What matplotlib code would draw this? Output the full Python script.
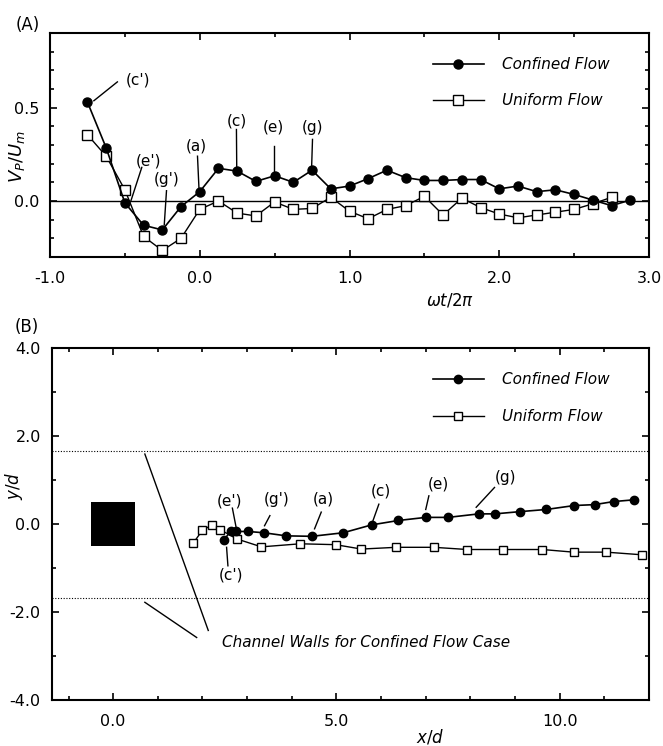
import numpy as np
import matplotlib
matplotlib.use("Agg")
import matplotlib.pyplot as plt
from matplotlib.ticker import MultipleLocator, FormatStrFormatter

plt.rcParams["font.family"] = "DejaVu Sans"
plt.rcParams["axes.unicode_minus"] = False

# (A) particle velocity vs phase
phase_conf = np.arange(-0.75, 2.876, 0.125)
vp_conf = [0.53, 0.285, -0.01, -0.13, -0.155, -0.03, 0.05, 0.175, 0.16, 0.105,
           0.135, 0.10, 0.165, 0.065, 0.08, 0.12, 0.165, 0.125, 0.11, 0.11,
           0.115, 0.115, 0.065, 0.08, 0.05, 0.06, 0.035, 0.005, -0.025, 0.005]
phase_unif = np.arange(-0.75, 2.751, 0.125)
vp_unif = [0.355, 0.24, 0.06, -0.19, -0.265, -0.2, -0.045, 0.0, -0.065, -0.08,
           -0.005, -0.045, -0.04, 0.02, -0.055, -0.095, -0.045, -0.025, 0.025, -0.075,
           0.015, -0.035, -0.07, -0.09, -0.075, -0.06, -0.045, -0.015, 0.02]

# (B) particle trajectories
x_conf = [2.48, 2.63, 2.74, 3.02, 3.38, 3.88, 4.45, 5.15, 5.79, 6.39,
          7.0, 7.5, 8.19, 8.55, 9.1, 9.7, 10.33, 10.78, 11.21, 11.67]
y_conf = [-0.36, -0.17, -0.17, -0.17, -0.2, -0.27, -0.28, -0.2, -0.02, 0.08,
          0.15, 0.15, 0.23, 0.23, 0.28, 0.33, 0.42, 0.44, 0.51, 0.55]
x_unif = [1.79, 2.0, 2.22, 2.40, 2.77, 3.32, 4.19, 4.98, 5.56, 6.34,
          7.18, 7.93, 8.73, 9.61, 10.31, 11.04, 11.84]
y_unif = [-0.44, -0.14, -0.02, -0.13, -0.34, -0.52, -0.45, -0.47, -0.57, -0.53,
          -0.53, -0.58, -0.58, -0.58, -0.64, -0.64, -0.70]
wall_y = [1.65, -1.68]

# labels: (text, text x, text y, line start, line end)
labels_a = [("(c')", -0.41, 0.65, (-0.55, 0.638), (-0.707, 0.537)),
            ("(e')", -0.34, 0.213, (-0.387, 0.18), (-0.46, 0.0)),
            ("(g')", -0.22, 0.117, (-0.222, 0.055), (-0.237, -0.128)),
            ("(a)", -0.02, 0.293, (-0.015, 0.24), (-0.005, 0.064)),
            ("(c)", 0.247, 0.426, (0.245, 0.383), (0.247, 0.18)),
            ("(e)", 0.493, 0.394, (0.493, 0.293), (0.493, 0.154)),
            ("(g)", 0.753, 0.394, (0.753, 0.33), (0.747, 0.18))]
labels_b = [("(e')", 2.61, 0.53, (2.67, 0.36), (2.76, -0.11)),
            ("(g')", 3.66, 0.55, (3.51, 0.19), (3.39, -0.04)),
            ("(a)", 4.70, 0.57, (4.66, 0.27), (4.51, -0.11)),
            ("(c')", 2.65, -1.17, (2.57, -0.95), (2.54, -0.53)),
            ("(c)", 5.99, 0.76, (5.95, 0.45), (5.82, 0.08)),
            ("(e)", 7.29, 0.91, (7.07, 0.64), (7.0, 0.33)),
            ("(g)", 8.78, 1.06, (8.54, 0.83), (8.13, 0.38))]

fig = plt.figure(figsize=(6.63, 7.46), dpi=100)
ax1 = fig.add_axes([0.0754, 0.6555, 0.9035, 0.3003])
ax2 = fig.add_axes([0.0784, 0.0617, 0.9005, 0.4718])

for ax in (ax1, ax2):
    for s in ax.spines.values():
        s.set_linewidth(1.5)
    ax.tick_params(which="both", direction="in", top=True, right=True, labelsize=11.5, width=1.2)
    ax.tick_params(which="major", length=5, pad=8)
    ax.tick_params(which="minor", length=3)
    ax.tick_params(axis="x", which="major", pad=10)

# panel A
ax1.axhline(0, color="black", lw=1.0, zorder=1)
ax1.plot(phase_conf, vp_conf, "-o", color="black", ms=6.5, lw=1.2, label="Confined Flow", zorder=3)
ax1.plot(phase_unif, vp_unif, "-s", color="black", mfc="white", ms=6.5, lw=1.0, label="Uniform Flow", zorder=2)
for t, tx, ty, p0, p1 in labels_a:
    ax1.text(tx, ty, t, ha="center", va="center", fontsize=11)
    ax1.plot([p0[0], p1[0]], [p0[1], p1[1]], color="black", lw=1.0)
ax1.set_xlim(-1, 3)
ax1.set_ylim(-0.3, 0.9)
ax1.xaxis.set_major_locator(MultipleLocator(1.0))
ax1.xaxis.set_minor_locator(MultipleLocator(0.5))
ax1.yaxis.set_major_locator(MultipleLocator(0.5))
ax1.yaxis.set_minor_locator(MultipleLocator(0.1))
ax1.xaxis.set_major_formatter(FormatStrFormatter("%.1f"))
ax1.yaxis.set_major_formatter(FormatStrFormatter("%.1f"))
ax1.set_xlabel(r"$\omega t/2\pi$", fontsize=12)
ax1.xaxis.set_label_coords(0.668, -0.155)
ax1.set_ylabel(r"$V_P/U_m$", fontsize=13)
ax1.yaxis.set_label_coords(-0.038, 0.45)
ax1.legend(loc="upper right", frameon=False, prop={"style": "italic", "size": 11},
           handlelength=3.3, handletextpad=1.2, labelspacing=1.35,
           bbox_to_anchor=(0.957, 0.953))
ax1.text(-0.058, 1.036, "(A)", transform=ax1.transAxes, fontsize=12, va="center")

# panel B
for wy in wall_y:
    ax2.axhline(wy, color="black", lw=0.8, ls=(0, (1, 1.5)))
ax2.fill([-0.5, 0.5, 0.5, -0.5], [-0.5, -0.5, 0.5, 0.5], color="black", lw=0)
ax2.plot(x_conf, y_conf, "-o", color="black", ms=6, lw=1.2, label="Confined Flow", zorder=3)
ax2.plot(x_unif, y_unif, "-s", color="black", mfc="white", ms=6, lw=1.0, label="Uniform Flow", zorder=2)
for t, tx, ty, p0, p1 in labels_b:
    ax2.text(tx, ty, t, ha="center", va="center", fontsize=11)
    ax2.plot([p0[0], p1[0]], [p0[1], p1[1]], color="black", lw=1.0)
ax2.plot([0.71, 2.13], [1.59, -2.42], color="black", lw=1.0)
ax2.plot([0.71, 1.87], [-1.78, -2.58], color="black", lw=1.0)
ax2.text(2.43, -2.69, "Channel Walls for Confined Flow Case", style="italic", fontsize=11, va="center")
ax2.set_xlim(-1.37, 12)
ax2.set_ylim(-4, 4)
ax2.xaxis.set_major_locator(MultipleLocator(5.0))
ax2.xaxis.set_minor_locator(MultipleLocator(1.0))
ax2.yaxis.set_major_locator(MultipleLocator(2.0))
ax2.yaxis.set_minor_locator(MultipleLocator(1.0))
ax2.xaxis.set_major_formatter(FormatStrFormatter("%.1f"))
ax2.yaxis.set_major_formatter(FormatStrFormatter("%.1f"))
ax2.set_xlabel(r"$x/d$", fontsize=12)
ax2.xaxis.set_label_coords(0.633, -0.078)
ax2.set_ylabel(r"$y/d$", fontsize=12)
ax2.yaxis.set_label_coords(-0.045, 0.608)
ax2.legend(loc="upper right", frameon=False, prop={"style": "italic", "size": 11},
           handlelength=3.3, handletextpad=1.2, labelspacing=1.45,
           bbox_to_anchor=(0.957, 0.97))
ax2.text(-0.062, 1.06, "(B)", transform=ax2.transAxes, fontsize=12, va="center")

fig.savefig("out.png", dpi=100)
